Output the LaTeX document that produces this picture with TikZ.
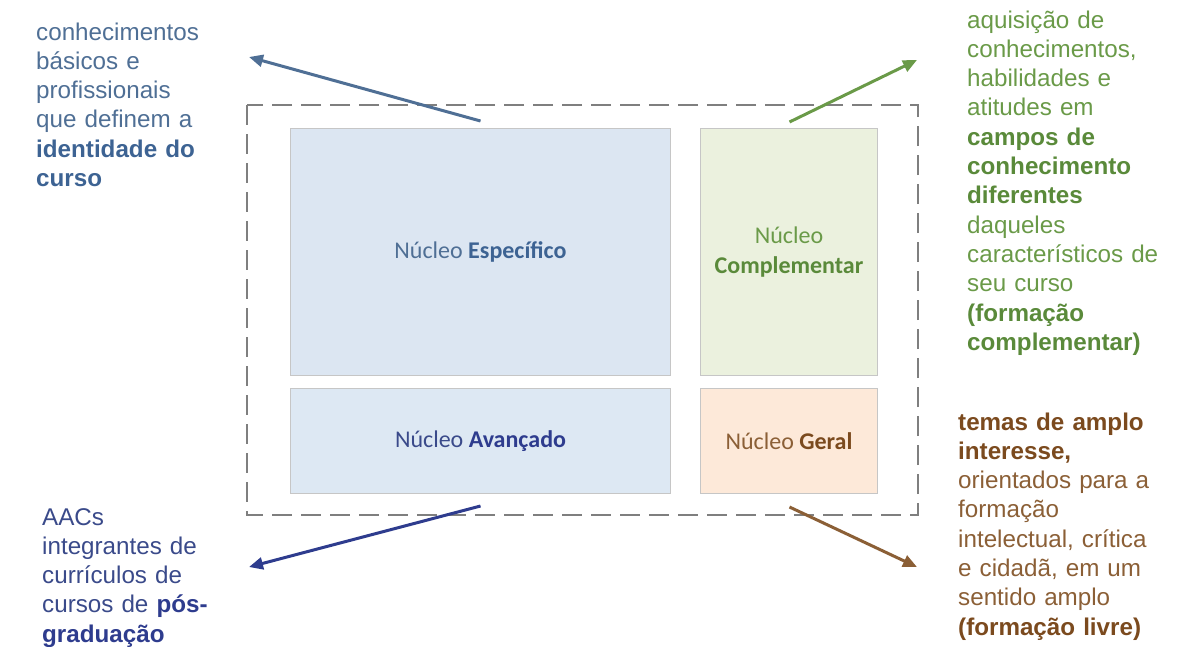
\documentclass[tikz,border=0pt]{standalone}
\usepackage{fontspec}
\setmainfont{Liberation Sans}
\newfontfamily\boxfont{Carlito}
\usetikzlibrary{arrows.meta}

\definecolor{espfill}{HTML}{DCE6F2}
\definecolor{avafill}{HTML}{DDE8F3}
\definecolor{compfill}{HTML}{EBF1DE}
\definecolor{gerfill}{HTML}{FDE9D9}
\definecolor{framegray}{HTML}{7F7F7F}
\definecolor{slate}{HTML}{4F6F95}
\definecolor{slatedark}{HTML}{3D6393}
\definecolor{leaf}{HTML}{6A9A48}
\definecolor{leafdark}{HTML}{5A8A3A}
\definecolor{navy}{HTML}{3A4A8A}
\definecolor{navydark}{HTML}{2E3C8E}
\definecolor{earth}{HTML}{8B5F36}
\definecolor{earthdark}{HTML}{7B4A1E}

\begin{document}
\begin{tikzpicture}[x=1pt,y=-1pt,
  frame/.style={draw=framegray, line width=2.4pt, dash pattern=on 20pt off 9pt},
  core/.style={draw=gray!45, line width=1pt, anchor=north west, inner sep=0pt,
    align=center, font=\boxfont\fontsize{24}{29.5}\selectfont},
  note/.style={anchor=base west, inner sep=0pt, text width=240pt, align=left,
    font=\fontsize{24.2}{29.3}\selectfont},
  link/.style={line width=3pt, -{Triangle[length=14pt,width=12pt]}}
]
\useasboundingbox (0,0) rectangle (1186,646);

% dashed outline of the curriculum
\draw[frame] (247,105) rectangle (918,515);

% the four cores
\node[core, fill=espfill, minimum width=380pt, minimum height=247pt] (esp) at (290,128)
  {\textcolor{slate}{Núcleo} \textcolor{slatedark}{\bfseries Específico}};
\node[core, fill=compfill, minimum width=177pt, minimum height=247pt] (comp) at (700,128)
  {\textcolor{leaf}{Núcleo}\\\textcolor{leafdark}{\bfseries Complementar}};
\node[core, fill=avafill, minimum width=380pt, minimum height=105pt] (ava) at (290,388)
  {\textcolor{navy}{Núcleo} \textcolor{navydark}{\bfseries Avançado}};
\node[core, fill=gerfill, minimum width=177pt, minimum height=105pt] (ger) at (700,388)
  {\textcolor{earth}{Núcleo} \textcolor{earthdark}{\bfseries Geral}};

% descriptions
\node[note, text=slate] (tEsp) at (36,40)
  {conhecimentos\\básicos e\\profissionais\\que definem a\\
   \textcolor{slatedark}{\bfseries identidade do}\\\textcolor{slatedark}{\bfseries curso}};
\node[note, text=leaf] (tComp) at (967,28)
  {aquisição de\\conhecimentos,\\habilidades e\\atitudes em\\
   \textcolor{leafdark}{\bfseries campos de}\\\textcolor{leafdark}{\bfseries conhecimento}\\
   \textcolor{leafdark}{\bfseries diferentes}\\daqueles\\característicos de\\seu curso\\
   \textcolor{leafdark}{\bfseries (formação}\\\textcolor{leafdark}{\bfseries complementar)}};
\node[note, text=navy] (tAva) at (42,525)
  {AACs\\integrantes de\\currículos de\\cursos de \textcolor{navydark}{\bfseries pós-}\\
   \textcolor{navydark}{\bfseries graduação}};
\node[note, text=earth] (tGer) at (958,430)
  {\textcolor{earthdark}{\bfseries temas de amplo}\\\textcolor{earthdark}{\bfseries interesse,}\\
   orientados para a\\formação\\intelectual, crítica\\e cidadã, em um\\sentido amplo\\
   \textcolor{earthdark}{\bfseries (formação livre)}};

% arrow ends beside the descriptions
\coordinate (pEsp) at (249,57);
\coordinate (pComp) at (917,60);
\coordinate (pAva) at (249,567);
\coordinate (pGer) at (917,567);

\draw[link, draw=slate, fill=slate] ([yshift=7pt]esp.north) -- (pEsp);
\draw[link, draw=leaf, fill=leaf] ([xshift=0.5pt,yshift=6pt]comp.north) -- (pComp);
\draw[link, draw=navydark, fill=navydark] ([yshift=-12pt]ava.south) -- (pAva);
\draw[link, draw=earth, fill=earth] ([xshift=0.5pt,yshift=-13pt]ger.south) -- (pGer);
\end{tikzpicture}
\end{document}
